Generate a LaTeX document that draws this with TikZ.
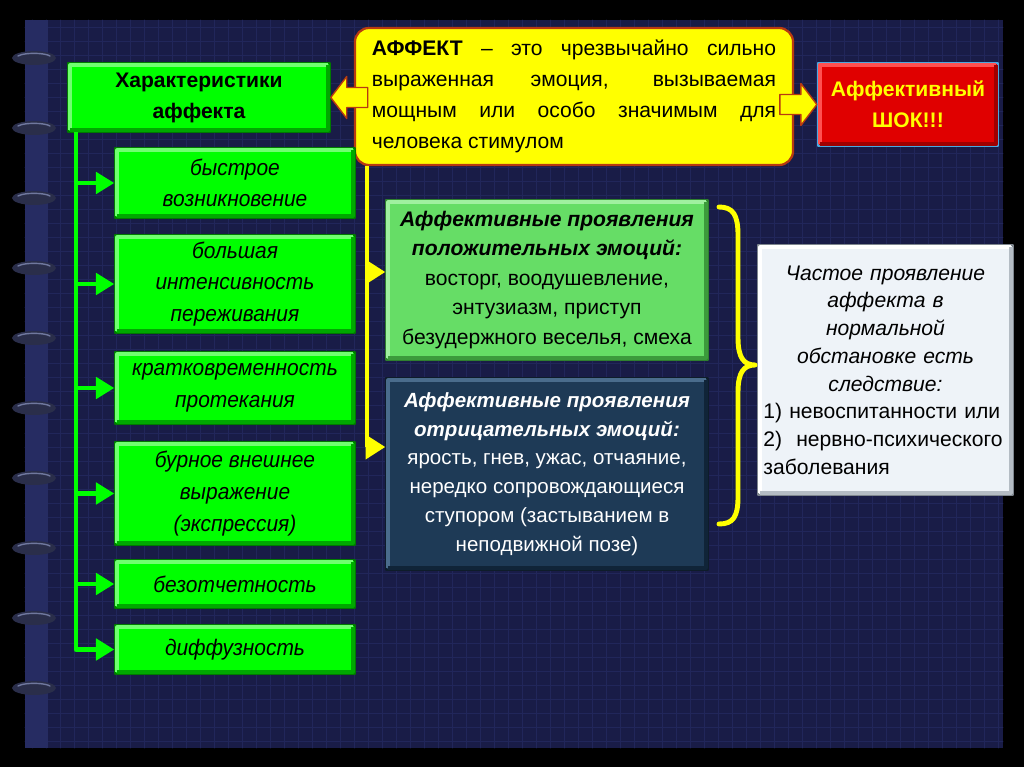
\documentclass[tikz,border=0pt]{standalone}
\usepackage{fontspec}
\setmainfont{Liberation Sans}
\newfontfamily\featfont[FakeStretch=0.93]{Liberation Sans}
\usetikzlibrary{arrows.meta}

\definecolor{panelblue}{HTML}{191C47}
\definecolor{gridblue}{HTML}{21265A}
\definecolor{spineblue}{HTML}{262C62}
\definecolor{ringcol}{HTML}{2A2E4A}
\definecolor{ringhi}{HTML}{70789E}
\definecolor{grnfill}{HTML}{00FF00}
\definecolor{grnedge}{HTML}{007A00}
\definecolor{grnlt}{HTML}{70FF70}
\definecolor{grndk}{HTML}{00A800}
\definecolor{posfill}{HTML}{66DD66}
\definecolor{posedge}{HTML}{2F7F2F}
\definecolor{poslt}{HTML}{A0F0A0}
\definecolor{posdk}{HTML}{3C9A3C}
\definecolor{negfill}{HTML}{1E3A56}
\definecolor{negedge}{HTML}{0E1C2A}
\definecolor{neglt}{HTML}{4A6C8C}
\definecolor{negdk}{HTML}{102438}
\definecolor{wfill}{HTML}{EEF3F8}
\definecolor{wedge}{HTML}{7E868E}
\definecolor{wlt}{HTML}{FFFFFF}
\definecolor{wdk}{HTML}{B4BCC4}
\definecolor{yfill}{HTML}{FFFF00}
\definecolor{yedge}{HTML}{B83A10}
\definecolor{ydk}{HTML}{D8C800}
\definecolor{rfill}{HTML}{E00000}
\definecolor{redge}{HTML}{4AA8E0}
\definecolor{rlt}{HTML}{FF5050}
\definecolor{rdk}{HTML}{A00000}

\newcommand\emhead[1]{\textbf{\textit{#1}}}
\newcommand\wline[1]{\makebox[6.1cm][c]{\itshape #1}}

\begin{document}
\hyphenpenalty=10000
\begin{tikzpicture}[
  x=0.025cm,
  y=-0.025cm,
  line cap=round,
  line join=round,
  basebox/.style={
    draw,
    line width=1pt,
    inner sep=2pt,
    align=center,
    text=black,
    font=\fontsize{15}{21}\selectfont
  },
  charbox/.style={
    basebox,
    fill=grnfill,
    draw=grnedge,
    font=\bfseries\fontsize{15}{22}\selectfont
  },
  featbox/.style={
    basebox,
    fill=grnfill,
    draw=grnedge,
    minimum width=6cm,
    font=\featfont\itshape\fontsize{16}{22.5}\selectfont
  },
  gline/.style={
    draw=grnfill,
    line width=3.5pt,
    line cap=butt,
    -{Triangle[length=13pt,width=15pt]}
  },
  yline/.style={
    draw=yfill,
    line width=3pt,
    line cap=butt,
    -{Triangle[length=14pt,width=17pt]}
  },
  blockarr/.style={
    fill=yfill,
    draw=yedge,
    line width=1pt
  }
]
  % Фон и рамка блокнота
  \fill[black] (0,0) rectangle (1024,767);
  \useasboundingbox (0,0) rectangle (1024,767);
  \fill[panelblue] (25,20) rectangle (1003,748);

  \foreach \gx in {32,46,...,1000}
    \draw[gridblue,line width=0.5pt] (\gx,20) -- (\gx,748);
  \foreach \gy in {27,41,...,745}
    \draw[gridblue,line width=0.5pt] (25,\gy) -- (1003,\gy);

  \fill[spineblue] (25,20) rectangle (48,748);

  % Кольца
  \foreach \ry in {58,128,...,688} {
    \fill[ringcol] (34,\ry) ellipse[x radius=22,y radius=7];
    \draw[ringhi,line width=1pt]
      (18,\ry-2) arc[start angle=200,end angle=340,x radius=17,y radius=4];
  }

  % Верхний ряд
  \node[charbox,
    minimum width=6.55cm,
    minimum height=1.725cm] (char) at (199,97.5)
    {Характеристики\\аффекта};

  \node[basebox,
    fill=yfill,
    draw=yedge,
    line width=1.6pt,
    rounded corners=10pt,
    minimum width=10.95cm,
    minimum height=3.425cm,
    text width=10.1cm,
    align=justify,
    font=\fontsize{15}{22}\selectfont] (defn) at (574,96.5)
    {\textbf{АФФЕКТ} – это чрезвычайно сильно\linebreak
     выраженная эмоция, вызываемая\linebreak
     мощным или особо значимым для\linebreak
     человека стимулом};

  \node[basebox,
    fill=rfill,
    draw=redge,
    line width=1.6pt,
    text=yfill,
    minimum width=4.5cm,
    minimum height=2.075cm,
    font=\bfseries\fontsize{15}{22}\selectfont] (shock) at (908,104.5)
    {Аффективный\\ШОК!!!};

  % Характеристики
  \node[featbox,minimum height=1.75cm]  (f1) at (235,183)
    {быстрое\\возникновение};
  \node[featbox,minimum height=2.45cm]  (f2) at (235,284)
    {большая\\интенсивность\\переживания};
  \node[featbox,minimum height=1.8cm]   (f3) at (235,388)
    {кратковременность\\протекания};
  \node[featbox,minimum height=2.575cm] (f4) at (235,493.5)
    {бурное внешнее\\выражение\\(экспрессия)};
  \node[featbox,minimum height=1.2cm]   (f5) at (235,584)
    {безотчетность};
  \node[featbox,minimum height=1.225cm] (f6) at (235,649.5)
    {диффузность};

  % Проявления
  \node[basebox,
    fill=posfill,
    draw=posedge,
    minimum width=8.05cm,
    minimum height=4cm] (pos) at (547,280)
    {\emhead{Аффективные проявления}\\
     \emhead{положительных эмоций:}\\
     восторг, воодушевление,\\
     энтузиазм, приступ\\
     безудержного веселья, смеха};

  \node[basebox,
    fill=negfill,
    draw=negedge,
    text=white,
    minimum width=8.05cm,
    minimum height=4.8cm,
    font=\fontsize{14.6}{20.5}\selectfont] (neg) at (547,474)
    {\emhead{Аффективные проявления}\\
     \emhead{отрицательных эмоций:}\\
     ярость, гнев, ужас, отчаяние,\\
     нередко сопровождающиеся\\
     ступором (застыванием в\\
     неподвижной позе)};

  \node[basebox,
    fill=wfill,
    draw=wedge,
    minimum width=6.375cm,
    minimum height=6.25cm,
    text width=6.1cm,
    align=left,
    font=\fontsize{15}{19.7}\selectfont] (conseq) at (885.5,370)
    {\wline{Частое проявление}\\
     \wline{аффекта в}\\
     \wline{нормальной}\\
     \wline{обстановке есть}\\
     \wline{следствие:}\\
     1) невоспитанности или\\
     2)\ \ нервно-психического\\
     заболевания};

  % Объём рамок: светлый верх-лево, тёмный низ-право
  \foreach \b/\lt/\dk in {char/grnlt/grndk, f1/grnlt/grndk,
      f2/grnlt/grndk, f3/grnlt/grndk, f4/grnlt/grndk,
      f5/grnlt/grndk, f6/grnlt/grndk, pos/poslt/posdk,
      neg/neglt/negdk, conseq/wlt/wdk, shock/rlt/rdk} {
    \draw[\lt,line width=2.6pt,line cap=butt]
      ([shift={(3,-3)}]\b.south west)
      -- ([shift={(3,3)}]\b.north west)
      -- ([shift={(-3,3)}]\b.north east);
    \draw[\dk,line width=2.6pt,line cap=butt]
      ([shift={(3,-3)}]\b.south west)
      -- ([shift={(-3,-3)}]\b.south east)
      -- ([shift={(-3,3)}]\b.north east);
  }

  % Зелёная шина
  \coordinate (gtop) at (76,132);
  \draw[gline] (gtop) |- (f6.west);
  \foreach \f in {f1,f2,f3,f4,f5}
    \draw[gline] (gtop |- \f.west) -- (\f.west);

  % Жёлтая шина
  \coordinate (ytop) at (367,166);
  \coordinate (ypos) at (367,272);
  \coordinate (yneg) at (367,447);
  \draw[yline] (ytop) |- (yneg -| neg.west);
  \draw[yline] (ypos) -- (ypos -| pos.west);

  % Объёмные стрелки
  \draw[blockarr]
    (char.east) -- ++(16,-21) -- ++(0,11) -- ++(21,0)
    -- ++(0,20) -- ++(-21,0) -- ++(0,11) -- cycle;
  \draw[blockarr]
    (shock.west) -- ++(-16,-21) -- ++(0,11) -- ++(-21,0)
    -- ++(0,20) -- ++(21,0) -- ++(0,11) -- cycle;

  % Фигурная скобка
  \draw[yfill,line width=3.5pt]
    (719,207)
    .. controls (733,207) and (738,215) .. (738,235)
    -- (738,338)
    .. controls (738,358) and (744,365) .. (755,365)
    .. controls (744,365) and (738,372) .. (738,392)
    -- (738,497)
    .. controls (738,517) and (733,524) .. (719,524);
\end{tikzpicture}
\end{document}
